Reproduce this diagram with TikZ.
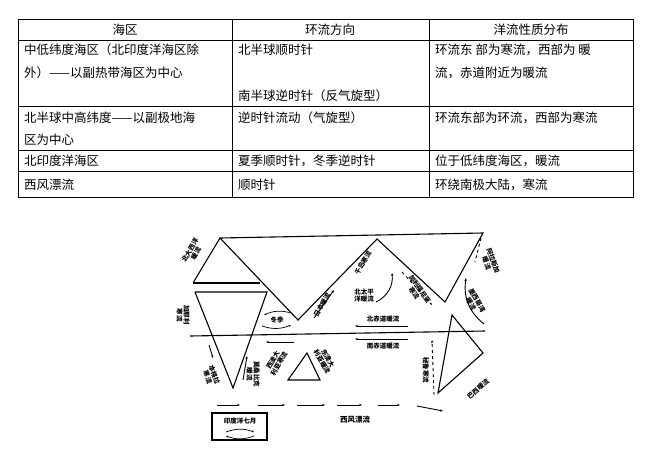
\documentclass[tikz,border=0pt]{standalone}
\usepackage{fontspec}
\setmainfont{Noto Sans CJK SC}
\usetikzlibrary{arrows.meta}
\begin{document}
\begin{tikzpicture}[x=1pt,y=-1pt,
  cell/.style={anchor=west,font=\fontsize{12.5}{14}\selectfont,inner sep=0},
  hd/.style={font=\fontsize{12.5}{14}\selectfont,inner sep=0},
  lbl/.style={font=\bfseries\fontsize{6.5}{7}\selectfont,inner sep=0,align=center},
  coast/.style={line width=1.1pt},
  cur/.style={line width=0.9pt,-{Stealth[length=3pt]}}]
\useasboundingbox (0,0) rectangle (651,453);
% table
\draw[line width=0.6pt] (18,19) rectangle (633,197);
\foreach \y in {40,106,150,171} \draw[line width=0.6pt] (18,\y) -- (633,\y);
\draw[line width=0.6pt] (232,19) -- (232,197) (429,19) -- (429,197);
\node[hd] (h1) at (125,29.5) {海区};
\node[hd] (h2) at (330,29.5) {环流方向};
\node[hd] (h3) at (531,29.5) {洋流性质分布};
\node[cell] (a1) at (24,50) {中低纬度海区（北印度洋海区除};
\node[cell] (a2) at (24,73) {外）——以副热带海区为中心};
\node[cell] (b1) at (238,50) {北半球顺时针};
\node[cell] (b2) at (238,96) {南半球逆时针（反气旋型）};
\node[cell] (c1) at (435,50) {环流东 部为寒流，西部为 暖};
\node[cell] (c2) at (435,73) {流，赤道附近为暖流};
\node[cell] (a3) at (24,118) {北半球中高纬度——以副极地海};
\node[cell] (a4) at (24,140) {区为中心};
\node[cell] (b3) at (238,118) {逆时针流动（气旋型）};
\node[cell] (c3) at (435,118) {环流东部为环流，西部为寒流};
\node[cell] (a5) at (24,161) {北印度洋海区};
\node[cell] (b5) at (238,161) {夏季顺时针，冬季逆时针};
\node[cell] (c5) at (435,161) {位于低纬度海区，暖流};
\node[cell] (a6) at (24,185) {西风漂流};
\node[cell] (b6) at (238,185) {顺时针};
\node[cell] (c6) at (435,185) {环绕南极大陆，寒流};
% diagram coasts
\coordinate (A) at (220,238); \coordinate (R) at (483,233);
\coordinate (P1) at (298,320); \coordinate (P2) at (377,239); \coordinate (P3) at (445,302);
\draw[coast] (193,283) -- (A) -- (R) -- (P3) -- (P2) -- (P1) -- (A);
\draw[coast] (193,283) -- (260,283);
\draw[coast] (195,292) -- (267,292) -- (233,388) -- (195,292);
\draw[coast] (190,336) -- (485,331);
\draw[coast] (452,315) -- (483,353) -- (438,393) -- cycle;
\draw[coast] (307,353) -- (288,380) -- (320,380) -- cycle;
\draw[coast] (212,413) rectangle (267,440);
% labels
\node[lbl,rotate=60] (l1) at (193,252) {北大西洋\\暖流};
\node[lbl,rotate=-90] (l2) at (183,315) {加那利\\寒流};
\node[lbl] (l3) at (277,320) {冬季};
\draw[line width=0.7pt,-{Stealth[length=2.5pt]}] (291,313) to[bend right=20] (264,315);
\draw[line width=0.7pt,-{Stealth[length=2.5pt]}] (262,326) to[bend right=20] (291,325);
\node[lbl,rotate=60] (l4) at (322,305) {日本暖流};
\draw[cur] (314,318) -- (334,290);
\node[lbl,rotate=60] (l5) at (363,263) {千岛寒流};
\node[lbl] (l6) at (364,296) {北太平\\洋暖流};
\draw[cur] (376,302) to[bend right=35] (392,273);
\node[lbl,rotate=-55] (l7) at (417,291) {加利福尼亚\\寒流};
\draw[line width=0.9pt,dashed,-{Stealth[length=3pt]}] (402,272) -- (432,305);
\node[lbl,rotate=-70] (l8) at (490,262) {阿拉斯加\\暖流};
\draw[line width=0.9pt,dashed] (481,238) -- (475,262);
\node[lbl,rotate=-60] (l9) at (474,302) {墨西哥湾\\暖流};
\draw[cur] (484,324) to[bend left=30] (466,278);
\node[lbl] (l10) at (383,319) {北赤道暖流};
\draw[cur] (408,326) -- (355,326);
\node[lbl] (l11) at (383,346) {南赤道暖流};
\draw[cur] (408,339) -- (355,339);
\draw[cur] (294,342) -- (266,342);
\node[lbl,rotate=60] (l12) at (276,362) {西澳大\\利亚寒流};
\node[lbl,rotate=-60] (l13) at (325,360) {东澳大\\利亚暖流};
\node[lbl,rotate=-90] (l14) at (253,374) {莫桑比克\\暖流};
\draw[cur] (243,380) -- (247,356);
\node[lbl,rotate=-70] (l15) at (211,376) {本格拉\\寒流};
\draw[cur] (209,345) -- (213,358);
\node[lbl,rotate=-90] (l16) at (426,370) {秘鲁寒流};
\draw[line width=0.9pt,dashed,-{Stealth[length=3pt]}] (434,395) -- (432,340);
\node[lbl,rotate=40] (l17) at (478,389) {巴西暖流};
% west wind drift
\foreach \a/\b in {217/240,258/285,297/325,337/362,378/400}
  \draw[cur] (\a,405) -- (\b,405);
\draw[cur] (417,406) -- (443,411);
\node[lbl,font=\bfseries\fontsize{7.5}{8}\selectfont] (l18) at (355,420) {西风漂流};
\node[lbl,font=\bfseries\fontsize{6.5}{7}\selectfont] (l19) at (240,421) {印度洋七月};
\draw[line width=0.7pt,-{Stealth[length=2.5pt]}] (226,432) to[bend left=20] (254,432);
\draw[line width=0.7pt,-{Stealth[length=2.5pt]}] (254,436) to[bend left=20] (226,436);
\end{tikzpicture}
\end{document}
